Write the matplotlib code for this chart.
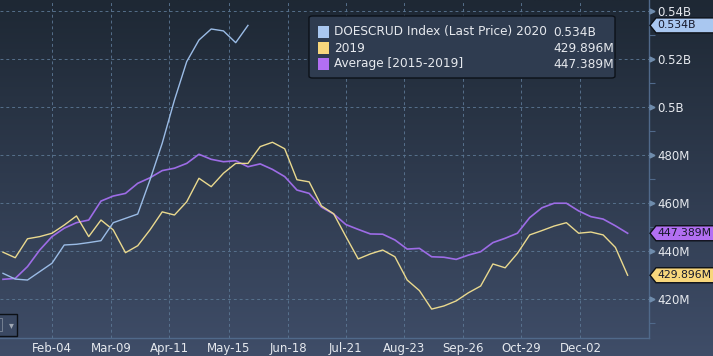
"""US crude stocks (DOESCRUD) 2020 vs 2019 and 5-year average, Bloomberg-style dark chart."""

import matplotlib
matplotlib.use("Agg")
import matplotlib.pyplot as plt
import matplotlib.transforms as mtransforms
from matplotlib.patches import Polygon, Rectangle, FancyBboxPatch
import numpy as np
import pandas as pd

W, H = 713, 356

# ---- data (million barrels, weekly) ---------------------------------------
DATES = pd.date_range("2020-01-07", periods=52, freq="7D")

stocks_2020 = [430.7, 428.3, 427.9, 431.4, 434.9, 442.5, 442.8, 443.5, 444.3, 451.8,
               453.6, 455.4, 469.6, 484.9, 502.9, 518.9, 527.9, 532.5, 531.7, 526.8,
               534.0]

stocks_2019 = [439.5, 437.2, 445.1, 446.0, 447.4, 450.8, 454.6, 446.0, 452.9, 448.8,
               439.3, 442.2, 448.8, 456.3, 455.0, 460.5, 470.3, 466.8, 472.4, 476.5,
               476.5, 483.5, 485.3, 482.6, 469.7, 468.8, 458.8, 455.5, 446.0, 436.7,
               438.8, 440.4, 437.6, 427.9, 423.5, 415.8, 417.1, 419.2, 422.6, 425.4,
               434.6, 433.0, 439.0, 446.7, 448.5, 450.4, 451.8, 447.4, 447.9, 446.7,
               441.5, 429.896]

avg_2015_2019 = [428.2, 428.6, 433.5, 440.4, 446.0, 449.5, 451.8, 452.9, 460.8, 462.9,
                 464.0, 468.2, 470.5, 473.5, 474.5, 476.5, 480.3, 478.2, 477.2, 477.6,
                 475.1, 476.3, 474.0, 471.0, 465.4, 464.0, 458.3, 455.4, 451.0, 449.0,
                 447.1, 447.0, 444.6, 440.8, 441.1, 437.6, 437.4, 436.5, 438.3, 439.7,
                 443.5, 445.3, 447.4, 453.9, 458.0, 459.9, 459.9, 456.7, 454.3, 453.3,
                 450.5, 447.389]

X_TICKS = pd.to_datetime(["2020-02-04", "2020-03-09", "2020-04-11", "2020-05-15",
                          "2020-06-18", "2020-07-21", "2020-08-23", "2020-09-26",
                          "2020-10-29", "2020-12-02"])
X_LABELS = ["Feb-04", "Mar-09", "Apr-11", "May-15", "Jun-18", "Jul-21", "Aug-23",
            "Sep-26", "Oct-29", "Dec-02"]
Y_TICKS = [420, 440, 460, 480, 500, 520, 540]
Y_LABELS = ["420M", "440M", "460M", "480M", "0.5B", "0.52B", "0.54B"]

SERIES = [
    ("DOESCRUD Index (Last Price) 2020", "0.534B", stocks_2020, "#9bbce6", "#a9c7f0"),
    ("2019", "429.896M", stocks_2019, "#ead98e", "#f8d77c"),
    ("Average [2015-2019]", "447.389M", avg_2015_2019, "#9d6ce6", "#b26ff2"),
]

TEXT = "#e6e9ee"
GRID = "#5b7693"
AXIS = "#50698a"


def fx(px):
    return px / W


def fy(py):
    return 1 - py / H


fig = plt.figure(figsize=(W / 100, H / 100), dpi=100)

# gradient background
bg = fig.add_axes([0, 0, 1, 1], zorder=-5)
top = np.array([30, 40, 52]) / 255
bot = np.array([63, 77, 104]) / 255
t = np.linspace(0, 1, 256)[:, None]
grad = top + (bot - top) * t
bg.imshow(grad[:, None, :].repeat(2, axis=1), aspect="auto", extent=[0, 1, 0, 1])
bg.axis("off")

ax = fig.add_axes([0, fy(338), fx(649), 338 / H])
ax.patch.set_alpha(0)

# plot lines, average underneath
for name, val, data, color, _ in reversed(SERIES):
    lw = 1.2 if "Average" in name else 1.0
    ax.plot(DATES[:len(data)], data, color=color, lw=lw, zorder=3)

ax.set_xlim(pd.Timestamp("2020-01-05 07:00"), pd.Timestamp("2021-01-10 05:00"))
ax.set_ylim(403.75, 544.58)

ax.set_xticks(X_TICKS)
ax.set_xticklabels(X_LABELS)
ax.yaxis.tick_right()
ax.set_yticks(Y_TICKS)
ax.set_yticklabels(Y_LABELS)
ax.set_yticks(np.arange(410, 550, 20), minor=True)

ax.tick_params(axis="x", length=0, pad=3, labelsize=8.5, labelcolor=TEXT)
ax.tick_params(axis="y", which="major", length=0, pad=6, labelsize=8.5, labelcolor=TEXT)
ax.tick_params(axis="y", which="minor", length=4, width=0.8, color=AXIS)

ax.grid(True, which="major", color=GRID, lw=0.7, linestyle=(0, (3, 3)), alpha=0.9)
for side in ["top", "left"]:
    ax.spines[side].set_visible(False)
for side in ["right", "bottom"]:
    ax.spines[side].set_color(AXIS)
    ax.spines[side].set_linewidth(1.0)

# arrow-style major ticks on the right axis
blend = mtransforms.blended_transform_factory(ax.transAxes, ax.transData)
ax.plot([1 + 3.5 / 649] * len(Y_TICKS), Y_TICKS, ls="none", marker=">", ms=3.5,
        color="#6f8cac", transform=blend, clip_on=False, zorder=4)


def val_to_py(v):
    _, ydisp = ax.transData.transform((0, v))
    return H - ydisp


# last-value tags on the right
for name, val, data, color, tagc in SERIES:
    yc = val_to_py(data[-1])
    pts = [(650, yc), (656, yc - 7.5), (716, yc - 7.5), (716, yc + 7.5), (656, yc + 7.5)]
    fig.patches.append(Polygon([(fx(x), fy(y)) for x, y in pts], closed=True,
                               transform=fig.transFigure, facecolor=tagc,
                               edgecolor="#0c1016", lw=1, zorder=10))
    fig.text(fx(657), fy(yc), val, color="#16182a", fontsize=7.8, va="center",
             ha="left", zorder=11)

# legend box
fig.patches.append(FancyBboxPatch((fx(309), fy(78)), fx(306), 62 / H,
                                  boxstyle="round,pad=0,rounding_size=0.005",
                                  transform=fig.transFigure, facecolor="#2f3c50",
                                  edgecolor="#0c1118", lw=1, zorder=8))
for i, (name, val, data, color, tagc) in enumerate(SERIES):
    yc = 32 + 16 * i
    fig.patches.append(Rectangle((fx(318), fy(yc + 5.5)), fx(11), 11 / H,
                                 transform=fig.transFigure, facecolor=tagc,
                                 edgecolor="none", zorder=9))
    fig.text(fx(334), fy(yc), name, color=TEXT, fontsize=8.7, va="center", zorder=9)
    fig.text(fx(553), fy(yc), val, color=TEXT, fontsize=8.7, va="center", zorder=9)

# little dropdown widget in the bottom-left corner
fig.patches.append(Rectangle((fx(-2), fy(336)), fx(19), 22 / H, transform=fig.transFigure,
                             facecolor="#3a4862", edgecolor="#0c1016", lw=1, zorder=8))
fig.patches.append(Rectangle((fx(-2), fy(331)), fx(4), 13 / H, transform=fig.transFigure,
                             facecolor="none", edgecolor="#7d8898", lw=0.6, zorder=9))
fig.text(fx(11), fy(325), "▾", color="#a0a8b4", fontsize=7, ha="center", va="center",
         zorder=9)

fig.savefig("out.png", dpi=100)
